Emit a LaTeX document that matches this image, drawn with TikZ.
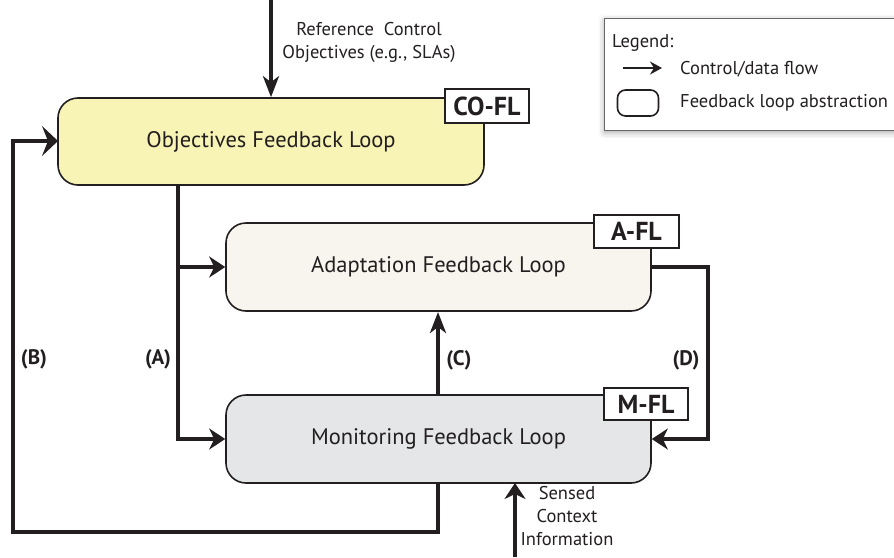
\documentclass[tikz,border=0pt]{standalone}
\usepackage{fontspec}
\setmainfont{PT Sans}
\usetikzlibrary{arrows.meta,shadows.blur}
\definecolor{ink}{RGB}{35,31,32}
\definecolor{cofill}{RGB}{248,244,182}
\definecolor{afill}{RGB}{248,244,238}
\definecolor{mfill}{RGB}{229,230,232}
\begin{document}
\begin{tikzpicture}[x=1pt,y=-1pt,
  loopbox/.style={draw=ink,line width=1.6pt,rounded corners=20pt,inner sep=0pt,
    font=\fontsize{22.5}{26}\selectfont,text=ink},
  tagbox/.style={draw=ink,fill=white,line width=1.6pt,inner sep=0pt,
    font=\bfseries\fontsize{26}{30}\selectfont,text=ink},
  flow/.style={draw=ink,line width=3.8pt,-{Stealth[length=16pt,width=21pt,inset=5pt]}},
  flownarrow/.style={draw=ink,line width=3.8pt,-{Stealth[length=21pt,width=16pt,inset=6pt]}},
  flowwide/.style={draw=ink,line width=3.8pt,-{Stealth[length=16pt,width=30pt,inset=6pt]}},
  flowline/.style={draw=ink,line width=3.8pt},
  lbl/.style={font=\bfseries\fontsize{21}{24}\selectfont,text=ink,inner sep=0pt},
  small/.style={font=\fontsize{18.5}{23}\selectfont,text=ink,align=center,inner sep=0pt},
  legtext/.style={font=\fontsize{18.5}{22}\selectfont,text=ink,anchor=west,inner sep=0pt}]
\useasboundingbox (0,0) rectangle (894,557);

% legend
\node[draw=gray!80!black,fill=white,line width=1pt,minimum width=330pt,minimum height=112pt,
  anchor=north west,inner sep=0pt,blur shadow={shadow xshift=0pt,shadow yshift=-2pt,shadow blur radius=6pt,shadow opacity=35}] (legend) at (604,18) {};
\node[legtext] (legt) at (612,43) {Legend:};
\coordinate (la1) at (623,68);
\coordinate (la2) at (662,68);
\draw[draw=ink,line width=2.6pt,-{Stealth[length=12pt,width=13pt,inset=4pt]}] (la1) -- (la2);
\node[legtext] (lflow) at (680,69) {Control/data flow};
\node[draw=ink,line width=1.6pt,rounded corners=8pt,minimum width=41pt,minimum height=26pt,inner sep=0pt] (lbox) at (638,103) {};
\node[legtext] (labs) at (680,103) {Feedback loop abstraction};

% boxes
\node[loopbox,fill=cofill,minimum width=426pt,minimum height=87pt] (co) at (271,141.5) {Objectives Feedback Loop};
\node[loopbox,fill=afill,minimum width=425pt,minimum height=88pt] (af) at (438.5,267) {Adaptation Feedback Loop};
\node[loopbox,fill=mfill,minimum width=425pt,minimum height=88pt] (mf) at (438.5,439) {Monitoring Feedback Loop};

\node[tagbox,minimum width=84pt,minimum height=34pt] (cotag) at (487,106) {CO-FL};
\node[tagbox,minimum width=85pt,minimum height=33pt] (atag) at (636.5,231.5) {A-FL};
\node[tagbox,minimum width=84pt,minimum height=32pt] (mtag) at (646,404) {M-FL};

% input arrow
\coordinate (refin) at (271,0);
\draw[flownarrow] (refin) -- (co.north);
\node[small,anchor=north] (reftext) at (369,22) {Reference\ \ Control\\Objectives (e.g., SLAs)};

% (A)
\coordinate (atop) at (178,184);
\coordinate (aj) at (178,267);
\draw[flowline] (atop) -- (aj);
\draw[flow] (aj) -- (aj -| af.west);
\draw[flow] (aj) |- (mf.west);
\node[lbl] (alab) at (158,359) {(A)};

% (B)
\coordinate (bstart) at (438,482);
\coordinate (bc1) at (438,532);
\coordinate (bc2) at (13,532);
\coordinate (bc3) at (13,141);
\coordinate (bend) at (58,141);
\draw[flowwide] (bstart) -- (bc1) -- (bc2) -- (bc3) -- (bend);
\node[lbl] (blab) at (34,359) {(B)};

% (C)
\coordinate (cstart) at (438,396);
\coordinate (cend) at (438,312);
\draw[flownarrow] (cstart) -- (cend);
\node[lbl] (clab) at (459,360) {(C)};

% (D)
\coordinate (dc1) at (708,267);
\coordinate (dc2) at (708,439);
\draw[flow] (af.east) -- (dc1) -- (dc2) -- (mf.east);
\node[lbl] (dlab) at (686,360) {(D)};

% sensed context
\coordinate (sin) at (515,557);
\coordinate (sout) at (515,483);
\draw[flow] (sin) -- (sout);
\node[small,anchor=north] (sense) at (567,486) {Sensed\\Context\\Information};
\end{tikzpicture}
\end{document}
